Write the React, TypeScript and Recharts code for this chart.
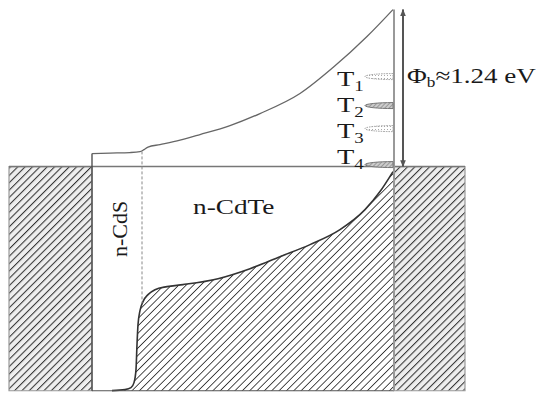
import React from "react";
import {
  ComposedChart,
  Line,
  Area,
  Scatter,
  XAxis,
  YAxis,
  ReferenceArea,
} from "recharts";

// position along the device (arbitrary units) and energy in eV (Fermi level = 0)
const cbPos = [92, 110, 130, 140, 144, 148, 160, 180, 200, 230, 260, 300, 333, 367, 393];
const cbEnergy = [0.103, 0.107, 0.111, 0.118, 0.134, 0.154, 0.174, 0.209, 0.253, 0.324, 0.419, 0.577, 0.782, 1.027, 1.24];

const vbPos = [112, 125, 131, 134, 136, 137, 138, 140, 143, 148, 155, 167, 183, 218, 250, 280, 310, 340, 365, 380, 393];
const vbEnergy = [-1.769, -1.761, -1.746, -1.706, -1.603, -1.406, -1.248, -1.137, -1.066, -1.011, -0.972, -0.948, -0.932, -0.885, -0.806, -0.711, -0.616, -0.498, -0.34, -0.197, -0.039];

const trapNames = ["T1", "T2", "T3", "T4"];
const trapEnergy = [0.711, 0.482, 0.3, 0.016];
const trapKind = ["dotted", "hatched", "dotted", "hatched"];

const bottomE = -1.77;
const barrier = 1.24;
const leftMetal = [9, 92];
const rightMetal = [394, 465];
const cdsEdge = 92;
const junction = 142;
const contact = 394;
const arrowPos = 403;

const cbData = cbPos.map((x, i) => ({ x, e: cbEnergy[i] }));
const vbData = vbPos.map((x, i) => ({ x, e: vbEnergy[i] }));
const trapData = trapEnergy.map((e, i) => ({ x: contact - 1, e, kind: trapKind[i], name: trapNames[i] }));

const seg = (x1: number, e1: number, x2: number, e2: number) => [
  { x: x1, e: e1 },
  { x: x2, e: e2 },
];

const TrapShape = (props: any) => {
  const { cx, cy, payload } = props;
  const rx = 28;
  const ry = 3;
  const d = `M ${cx} ${cy - ry} A ${rx} ${ry} 0 0 0 ${cx} ${cy + ry} Z`;
  if (payload.kind === "dotted") {
    return <path d={d} fill="url(#trapDots)" stroke="#999" strokeWidth={1} strokeDasharray="1.5 1" />;
  }
  return <path d={d} fill="url(#trapHatch)" stroke="#777" strokeWidth={1} />;
};

const serif = "Liberation Serif";

export default function App() {
  return (
    <div style={{ position: "absolute", left: 0, top: 0, width: 538, height: 393, background: "#fff" }}>
      <ComposedChart width={538} height={393} margin={{ top: 2, right: 0, bottom: 1, left: 0 }}>
        <defs>
          <pattern id="metal" patternUnits="userSpaceOnUse" width="5.2" height="5.2" patternTransform="rotate(45)">
            <rect width="5.2" height="5.2" fill="#eeeeee" />
            <line x1="0" y1="0" x2="0" y2="5.2" stroke="#333" strokeWidth="2.1" />
          </pattern>
          <pattern id="semi" patternUnits="userSpaceOnUse" width="5.2" height="5.2" patternTransform="rotate(45)">
            <rect width="5.2" height="5.2" fill="#fff" />
            <line x1="0" y1="0" x2="0" y2="5.2" stroke="#222" strokeWidth="1.6" />
          </pattern>
          <pattern id="trapHatch" patternUnits="userSpaceOnUse" width="3" height="3" patternTransform="rotate(45)">
            <rect width="3" height="3" fill="#ccc" />
            <line x1="0" y1="0" x2="0" y2="3" stroke="#777" strokeWidth="1.2" />
          </pattern>
          <pattern id="trapDots" patternUnits="userSpaceOnUse" width="3" height="3">
            <rect width="3" height="3" fill="#fff" />
            <rect width="1" height="1" fill="#aaa" />
          </pattern>
          <marker id="arrowHead" viewBox="0 0 10 10" refX="9" refY="5" markerWidth="7" markerHeight="10" orient="auto-start-reverse" markerUnits="userSpaceOnUse">
            <path d="M0,1 L10,5 L0,9 Z" fill="#555" />
          </marker>
        </defs>
        <XAxis type="number" dataKey="x" domain={[0, 538]} allowDataOverflow hide />
        <YAxis type="number" dataKey="e" domain={[-1.78, 1.3]} allowDataOverflow hide />

        <ReferenceArea x1={leftMetal[0]} x2={leftMetal[1]} y1={bottomE} y2={0} fill="url(#metal)" fillOpacity={1} stroke="#999" strokeWidth={1.2} ifOverflow="visible" />
        <ReferenceArea x1={rightMetal[0]} x2={rightMetal[1]} y1={bottomE} y2={0} fill="url(#metal)" fillOpacity={1} stroke="#999" strokeWidth={1.2} ifOverflow="visible" />

        <Area data={vbData} dataKey="e" type="monotone" baseValue={bottomE} fill="url(#semi)" fillOpacity={1} stroke="#333" strokeWidth={1.6} isAnimationActive={false} />

        <Line data={seg(leftMetal[0], 0, rightMetal[1], 0)} dataKey="e" type="linear" stroke="#777" strokeWidth={1.5} dot={false} isAnimationActive={false} />
        <Line data={seg(cdsEdge, bottomE, contact, bottomE)} dataKey="e" type="linear" stroke="#555" strokeWidth={1.2} dot={false} isAnimationActive={false} />
        <Line data={seg(cdsEdge, bottomE, cdsEdge, cbEnergy[0])} dataKey="e" type="linear" stroke="#444" strokeWidth={1.3} dot={false} isAnimationActive={false} />
        <Line data={seg(junction, 0.12, junction, -1.08)} dataKey="e" type="linear" stroke="#888" strokeWidth={1} strokeDasharray="3 2" dot={false} isAnimationActive={false} />
        <Line data={cbData} dataKey="e" type="monotone" stroke="#666" strokeWidth={1.3} dot={false} isAnimationActive={false} />
        <Line data={seg(contact, bottomE, contact, barrier)} dataKey="e" type="linear" stroke="#999" strokeWidth={2} dot={false} isAnimationActive={false} />
        <Line data={seg(arrowPos, 0, arrowPos, barrier)} dataKey="e" type="linear" stroke="#555" strokeWidth={2} dot={false} markerStart="url(#arrowHead)" markerEnd="url(#arrowHead)" isAnimationActive={false} />

        <Scatter data={trapData} dataKey="e" shape={TrapShape} isAnimationActive={false} />
      </ComposedChart>

      <svg width={538} height={393} style={{ position: "absolute", left: 0, top: 0, pointerEvents: "none" }}>
        <g style={{ fontFamily: serif }} fill="#1a1a1a">
          <text x={193} y={214} fontSize={21} transform="translate(193 214) scale(1.3 1) translate(-193 -214)">n-CdTe</text>
          <text x={0} y={0} fontSize={22} transform="translate(127 257) rotate(-90)">n-CdS</text>
          <text x={407} y={83} fontSize={22} transform="translate(407 83) scale(1.23 1) translate(-407 -83)">
            Φ<tspan fontSize={14} dy={4}>b</tspan><tspan dy={-4}>≈1.24 eV</tspan>
          </text>
          {[86, 112, 138, 164].map((y, i) => (
            <text key={i} x={337} y={y} fontSize={21} transform={`translate(337 ${y}) scale(1.35 1) translate(-337 ${-y})`}>
              T<tspan fontSize={14} dy={5}>{i + 1}</tspan>
            </text>
          ))}
        </g>
      </svg>
    </div>
  );
}
